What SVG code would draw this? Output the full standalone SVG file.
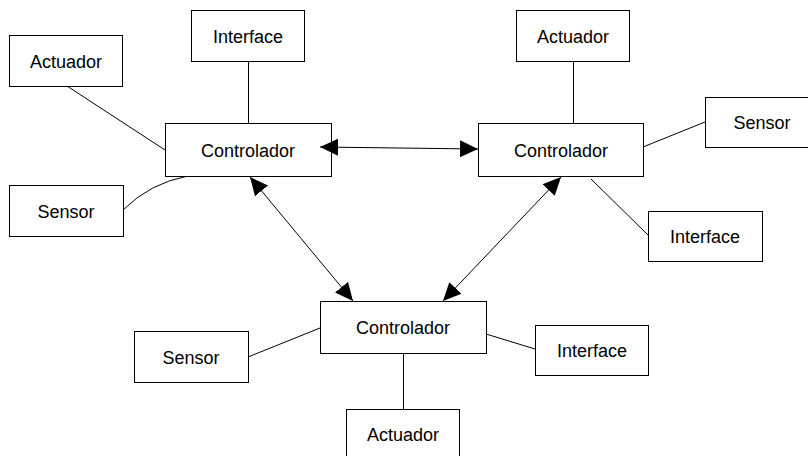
<svg xmlns="http://www.w3.org/2000/svg" width="808" height="456" viewBox="0 0 808 456">
<style>
.box{fill:#fff;stroke:#000;stroke-width:1}
.lbl{font-family:"Liberation Sans",Arial,sans-serif;font-size:18px;fill:#000;text-anchor:middle}
.ln{fill:none;stroke:#000;stroke-width:1}
.arr{fill:none;stroke:#000;stroke-width:1;marker-start:url(#ah);marker-end:url(#ah)}
</style>
<defs>
<marker id="ah" markerUnits="userSpaceOnUse" markerWidth="18" markerHeight="18" viewBox="0 0 16 16" refX="16" refY="8" orient="auto-start-reverse">
<path d="M0,0.5 L16,8 L0,15.5 Z" fill="#000"/>
</marker>
</defs>
<rect width="808" height="456" fill="#fff"/>
<g id="connectors">
<line class="ln" x1="67" y1="86" x2="165" y2="150"/>
<line class="ln" x1="248.5" y1="61" x2="248.5" y2="123"/>
<path class="ln" d="M123,210 Q150,183 188,176"/>
<line class="ln" x1="573.5" y1="61" x2="573.5" y2="123"/>
<line class="ln" x1="643" y1="147" x2="705" y2="122"/>
<line class="ln" x1="591" y1="179" x2="648" y2="235"/>
<line class="ln" x1="248" y1="357" x2="320" y2="328"/>
<line class="ln" x1="486" y1="334" x2="535" y2="349"/>
<line class="ln" x1="403.5" y1="353" x2="403.5" y2="409"/>
</g>
<g id="ctrl-left"><rect class="box" x="165.5" y="123.5" width="166" height="53"/><text class="lbl" x="248" y="156.5">Controlador</text></g>
<g id="ctrl-right"><rect class="box" x="478.5" y="123.5" width="165" height="53"/><text class="lbl" x="561" y="156.5">Controlador</text></g>
<g id="ctrl-bottom"><rect class="box" x="320.5" y="301.5" width="166" height="52"/><text class="lbl" x="403" y="333.5">Controlador</text></g>
<g id="tl-actuador"><rect class="box" x="9.5" y="35.5" width="113" height="51"/><text class="lbl" x="66" y="67.5">Actuador</text></g>
<g id="tl-interface"><rect class="box" x="191.5" y="10.5" width="113" height="51"/><text class="lbl" x="248" y="42.5">Interface</text></g>
<g id="tl-sensor"><rect class="box" x="9.5" y="185.5" width="114" height="51"/><text class="lbl" x="66" y="217.5">Sensor</text></g>
<g id="tr-actuador"><rect class="box" x="516.5" y="10.5" width="113" height="51"/><text class="lbl" x="573" y="42.5">Actuador</text></g>
<g id="tr-sensor"><rect class="box" x="705.5" y="97.5" width="113" height="50"/><text class="lbl" x="762" y="128.5">Sensor</text></g>
<g id="tr-interface"><rect class="box" x="648.5" y="211.5" width="114" height="50"/><text class="lbl" x="705" y="242.5">Interface</text></g>
<g id="b-sensor"><rect class="box" x="134.5" y="331.5" width="114" height="51"/><text class="lbl" x="191" y="363.5">Sensor</text></g>
<g id="b-interface"><rect class="box" x="535.5" y="325.5" width="113" height="50"/><text class="lbl" x="592" y="356.5">Interface</text></g>
<g id="b-actuador"><rect class="box" x="346.5" y="409.5" width="113" height="51"/><text class="lbl" x="403" y="441">Actuador</text></g>
<g id="arrows">
<line class="arr" x1="320" y1="147" x2="478" y2="149"/>
<line class="arr" x1="250" y1="177" x2="353" y2="301"/>
<line class="arr" x1="561" y1="177" x2="443" y2="301"/>
</g>
</svg>
